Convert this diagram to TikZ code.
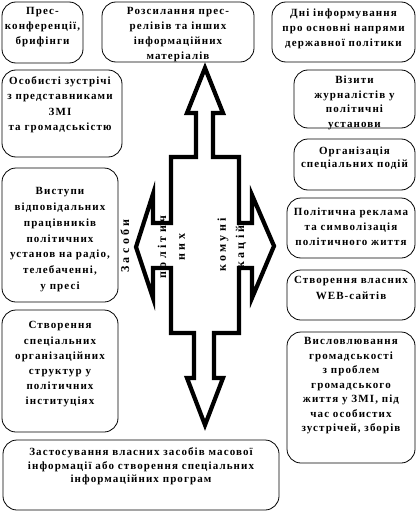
\documentclass[tikz,border=0pt]{standalone}
\usepackage{fontspec}
\setmainfont{Liberation Serif}[LetterSpace=10]
\newfontfamily\arrowfont{Liberation Serif}[LetterSpace=28]
\tikzset{
  box/.style={draw, rounded corners=14pt, line width=0.8pt, inner sep=0pt},
  txt/.style={font=\fontsize{11}{#1}\selectfont\bfseries, align=center, inner sep=0pt, anchor=north},
  txt/.default=15,
  bigarrow/.style={draw, line width=4.2pt, miter limit=20},
  vtxt/.style={font=\arrowfont\fontsize{12}{13}\selectfont\bfseries, rotate=90, inner sep=0pt}
}
\begin{document}
\begin{tikzpicture}[x=1pt,y=-1pt]
\useasboundingbox (0,0) rectangle (417,511);
% central four-way arrow
\draw[bigarrow] (205,68) -- (223,113) -- (213,113) -- (213,157) -- (239,157) -- (239,223)
  -- (252,223) -- (252,195) -- (274,246) -- (252,298) -- (252,268) -- (239,268) -- (239,333)
  -- (214,333) -- (214,378) -- (223,378) -- (205,425) -- (187,378) -- (194,378) -- (194,333)
  -- (171,333) -- (171,268) -- (153,268) -- (153,298) -- (136,247) -- (153,194) -- (153,223)
  -- (171,223) -- (171,157) -- (196,157) -- (196,113) -- (187,113) -- cycle;
\node[vtxt] (a1) at (125,246) {Засоби};
\node[vtxt] (a2) at (162,247) {політич};
\node[vtxt] (a3) at (182,247) {них};
\node[vtxt] (a4) at (223,245) {комуні};
\node[vtxt] (a5) at (241,247) {кацій};
% boxes
\node[box, minimum width=81pt, minimum height=61pt] (b1) at (42.5,32.5) {};
\node[txt=15] (t1) at (42.5,7.5) {Прес-\\конференції,\\брифінги};
\node[box, minimum width=152pt, minimum height=60pt] (b2) at (178,32) {};
\node[txt=14.7] (t2) at (178,7.5) {Розсилання прес-\\релівів та інших\\інформаційних\\матеріалів};
\node[box, minimum width=143pt, minimum height=60pt] (b3) at (343.5,32) {};
\node[txt=15] (t3) at (343.5,8.5) {Дні інформування\\про основні напрями\\державної політики};
\node[box, minimum width=120pt, minimum height=87pt] (b4) at (62,113.5) {};
\node[txt=15.3] (t4) at (60,76.5) {Особисті зустрічі\\з представниками\\ЗМІ\\та громадськістю};
\node[box, minimum width=121pt, minimum height=58pt] (b5) at (354.5,99) {};
\node[txt=14.7] (t5) at (354.5,75.5) {Візити\\журналістів у\\політичні\\установи};
\node[box, minimum width=121pt, minimum height=51pt] (b6) at (354.5,164.5) {};
\node[txt=13] (t6) at (354.5,146.5) {Організація\\спеціальних подій};
\node[box, minimum width=128pt, minimum height=60pt] (b7) at (351,228) {};
\node[txt=15] (t7) at (351,207.5) {Політична реклама\\та символізація\\політичного життя};
\node[box, minimum width=128pt, minimum height=50pt] (b8) at (351,295) {};
\node[txt=16] (t8) at (351,276.5) {Створення власних\\WEB-сайтів};
\node[box, minimum width=128pt, minimum height=131pt] (b9) at (351,397.5) {};
\node[txt=14.5] (t9) at (351,337.5) {Висловлювання\\громадськості\\з проблем\\громадського\\життя у ЗМІ, під\\час особистих\\зустрічей, зборів};
\node[box, minimum width=116pt, minimum height=134pt] (b10) at (60,235) {};
\node[txt=15.7] (t10) at (60,187.5) {Виступи\\відповідальних\\працівників\\політичних\\установ на радіо,\\телебаченні,\\у пресі};
\node[box, minimum width=116pt, minimum height=122pt] (b11) at (60,371) {};
\node[txt=15.2] (t11) at (60,321.5) {Створення\\спеціальних\\організаційних\\структур у\\політичних\\інституціях};
\node[box, minimum width=276pt, minimum height=70pt] (b12) at (141,475) {};
\node[txt=13.5] (t12) at (141,447.5) {Застосування власних засобів масової\\інформації або створення спеціальних\\інформаційних програм};
\end{tikzpicture}
\end{document}
